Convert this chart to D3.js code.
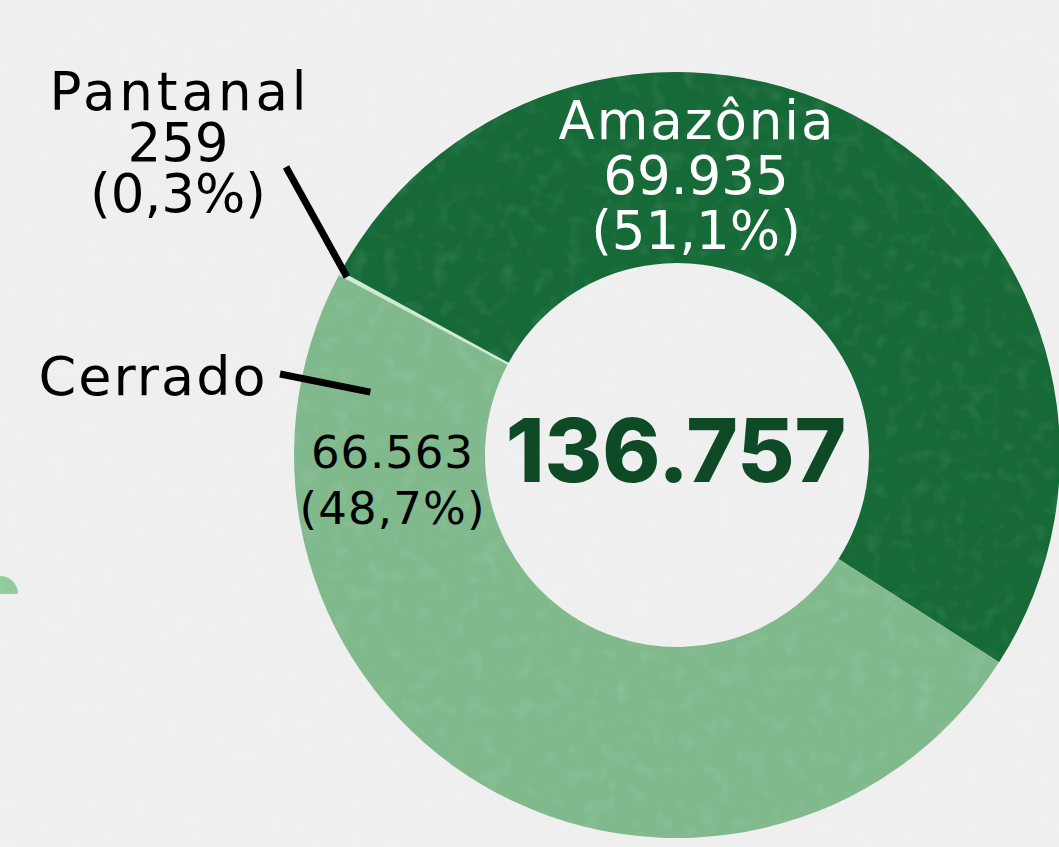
<!DOCTYPE html>
<html>
<head>
<meta charset="utf-8">
<script src="https://cdn.jsdelivr.net/npm/d3@7"></script>
<style>
  html, body { margin: 0; padding: 0; background: #efefef; }
  svg { display: block; }
  text { font-family: 'DejaVu Sans', sans-serif; }
  text.total { font-family: Inter, sans-serif; }
</style>
</head>
<body>
<svg width="1059" height="847"></svg>
<script>
// data
const biomes = ['Pantanal', 'Amazônia', 'Cerrado'];
const values = [259, 69935, 66563];
const shares = ['0,3%', '51,1%', '48,7%'];
const total = '136.757';

const fmt = d3.formatLocale({ decimal: ',', thousands: '.', grouping: [3], currency: ['', ''] }).format(',d');

const CX = 677, CY = 455;
const R_OUT = 383, R_IN = 192;
const START = -62.0 * Math.PI / 180;

const colors = d3.scaleOrdinal()
  .domain(biomes)
  .range(['#cfe9d4', '#166a37', '#80b98c']);

const svg = d3.select('svg'),
    width = +svg.attr('width'),
    height = +svg.attr('height');

// paper texture
const defs = svg.append('defs');
const noise = defs.append('filter').attr('id', 'noise')
  .attr('x', 0).attr('y', 0).attr('width', '100%').attr('height', '100%');
noise.append('feTurbulence')
  .attr('type', 'fractalNoise').attr('baseFrequency', 0.06).attr('numOctaves', 2).attr('seed', 4);
noise.append('feColorMatrix')
  .attr('type', 'matrix')
  .attr('values', '0 0 0 0 1  0 0 0 0 1  0 0 0 0 1  0 0 0 1.2 -0.6');

svg.append('rect')
  .attr('width', width).attr('height', height)
  .attr('fill', '#efefef');

// small decoration on the left edge
svg.append('path')
  .attr('transform', 'translate(0,594)')
  .attr('d', d3.arc()({ innerRadius: 0, outerRadius: 18, startAngle: 0, endAngle: Math.PI / 2 }))
  .attr('fill', '#8fcb9d');

const pie = d3.pie()
  .sort(null)
  .value(d => d.value)
  .startAngle(START)
  .endAngle(START + 2 * Math.PI);

const rows = biomes.map((b, i) => ({ name: b, value: values[i], share: shares[i] }));
const arcs = pie(rows);

const arc = d3.arc().innerRadius(R_IN).outerRadius(R_OUT);

const g = svg.append('g').attr('transform', `translate(${CX},${CY})`);

g.selectAll('path.slice')
  .data(arcs)
  .enter().append('path')
  .attr('class', 'slice')
  .attr('d', arc)
  .attr('fill', d => colors(d.data.name));

svg.append('rect')
  .attr('width', width).attr('height', height)
  .attr('filter', 'url(#noise)')
  .attr('opacity', 0.18);

const polar = (a, r) => [CX + r * Math.sin(a), CY - r * Math.cos(a)];

// leader lines
const pant = arcs[0];
const pantA = (pant.startAngle + pant.endAngle) / 2;
const p1 = polar(pantA, R_OUT - 8);
svg.append('line')
  .attr('x1', 286).attr('y1', 167)
  .attr('x2', p1[0]).attr('y2', p1[1])
  .attr('stroke', '#000').attr('stroke-width', 7);

const cerr = arcs[2];
const c1 = polar(-78.4 * Math.PI / 180, 313);
svg.append('line')
  .attr('x1', 280).attr('y1', 374)
  .attr('x2', c1[0]).attr('y2', c1[1])
  .attr('stroke', '#000').attr('stroke-width', 7);

// stretch a line to the reference width, never squeeze it
function label(lines, x, y0, lh, size, fill, widths, weight, cls) {
  const t = svg.append('text')
    .attr('class', cls || null)
    .attr('text-anchor', 'middle')
    .attr('fill', fill)
    .attr('font-size', size)
    .attr('font-weight', weight || 400);
  lines.forEach((s, i) => {
    const ts = t.append('tspan')
      .attr('x', x).attr('y', y0 + i * lh)
      .text(s);
    const w = ts.node().getComputedTextLength();
    if (widths && widths[i] && w < widths[i]) ts.attr('textLength', widths[i]).attr('lengthAdjust', 'spacing');
  });
  return t;
}

const amz = arcs[1].data;
label([amz.name, fmt(amz.value), `(${amz.share})`], 696, 139, 55, 53, '#ffffff', [275, 163, 150]);
label([pant.data.name, fmt(pant.data.value), `(${pant.data.share})`], 178, 110, 51, 53, '#000', [257, 98, 162]);
label([cerr.data.name], 152, 395, 0, 54, '#000', [227]);
label([fmt(cerr.data.value), `(${cerr.data.share})`], 392, 468, 56, 45, '#000', [162, 185]);
label([total], 676, 482, 0, 88, '#0f4a26', [337], 800, 'total');
</script>
</body>
</html>
